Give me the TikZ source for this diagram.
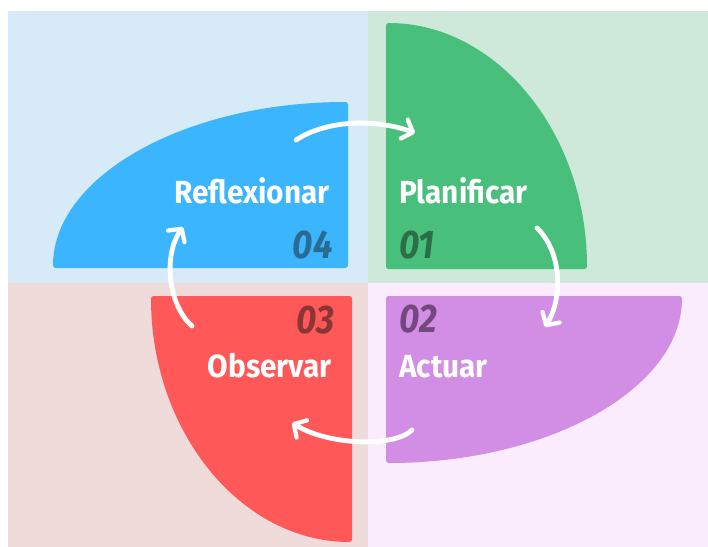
\documentclass[tikz,border=0pt]{standalone}
\usepackage{fontspec}
\usetikzlibrary{arrows.meta}
\newfontfamily\lblfont{Fira Sans}[FakeStretch=0.93]
\newfontfamily\numfont{Fira Sans}[FakeStretch=0.88]
\definecolor{bgblue}{HTML}{D7EAF7}
\definecolor{bggreen}{HTML}{CEE8DA}
\definecolor{bgpink}{HTML}{EFDBDA}
\definecolor{bgpurple}{HTML}{FAEBFD}
\definecolor{cblue}{HTML}{3AB5FE}
\definecolor{cgreen}{HTML}{49BF7C}
\definecolor{cpurple}{HTML}{D28DE4}
\definecolor{cred}{HTML}{FF5859}
\definecolor{nblue}{HTML}{2A6B93}
\definecolor{ngreen}{HTML}{2B6E48}
\definecolor{nred}{HTML}{8C3535}
\definecolor{npurple}{HTML}{73487F}
\tikzset{
  shapepart/.style={rounded corners=2pt},
  lbl/.style={inner sep=0pt, text=white, font=\lblfont\bfseries\fontsize{24}{28}\selectfont},
  num/.style={inner sep=0pt, font=\numfont\bfseries\itshape\fontsize{30}{34}\selectfont},
  cyc/.style={draw=white, line width=3.6pt, line cap=round,
    -{Straight Barb[length=7pt, width=15pt, line width=3.2pt, round]}}
}
\begin{document}
\begin{tikzpicture}[x=0.75pt, y=-0.75pt]
\useasboundingbox (0,0) rectangle (708,547);
\fill[white] (0,0) rectangle (708,547);
% backgrounds
\fill[bgblue] (8,11) rectangle (368,283);
\fill[bggreen] (368,11) rectangle (708,283);
\fill[bgpink] (8,283) rectangle (368,547);
\fill[bgpurple] (368,283) rectangle (708,547);
% quarter shapes
\fill[cblue, shapepart] (348,268) -- (53,268) arc[start angle=180, end angle=270, x radius=295, y radius=166] -- cycle;
\fill[cgreen, shapepart] (386,269) -- (386,23) arc[start angle=270, end angle=360, x radius=201, y radius=246] -- cycle;
\fill[cpurple, shapepart] (386,296) -- (682,296) arc[start angle=0, end angle=90, x radius=296, y radius=167] -- cycle;
\fill[cred, shapepart] (352,296) -- (151,296) arc[start angle=180, end angle=90, x radius=201, y radius=246] -- cycle;
% labels
\node[lbl, anchor=base east] (reflex) at (330,203) {Reflexionar};
\node[lbl, anchor=base west] (plan) at (399,203) {Planificar};
\node[lbl, anchor=base east] (obs) at (332,377) {Observar};
\node[lbl, anchor=base west] (act) at (399,377) {Actuar};
\node[num, text=nblue, anchor=base east] (n4) at (333,258) {04};
\node[num, text=ngreen, anchor=base west] (n1) at (399,258) {01};
\node[num, text=nred, anchor=base east] (n3) at (335,333) {03};
\node[num, text=npurple, anchor=base west] (n2) at (399,332) {02};
% arrow end points
\coordinate (a1s) at (296,140);
\coordinate (a1e) at (415,133);
\coordinate (a2s) at (537,228);
\coordinate (a2e) at (545,327);
\coordinate (a3s) at (412,430);
\coordinate (a3e) at (292,423);
\coordinate (a4s) at (192,326);
\coordinate (a4e) at (183,227);
\draw[cyc] (a1s) .. controls (330,118) and (380,120) .. (a1e);
\draw[cyc] (a2s) .. controls (562,252) and (563,298) .. (a2e);
\draw[cyc] (a3s) .. controls (395,447) and (330,446) .. (a3e);
\draw[cyc] (a4s) .. controls (168,305) and (163,255) .. (a4e);
\end{tikzpicture}
\end{document}
